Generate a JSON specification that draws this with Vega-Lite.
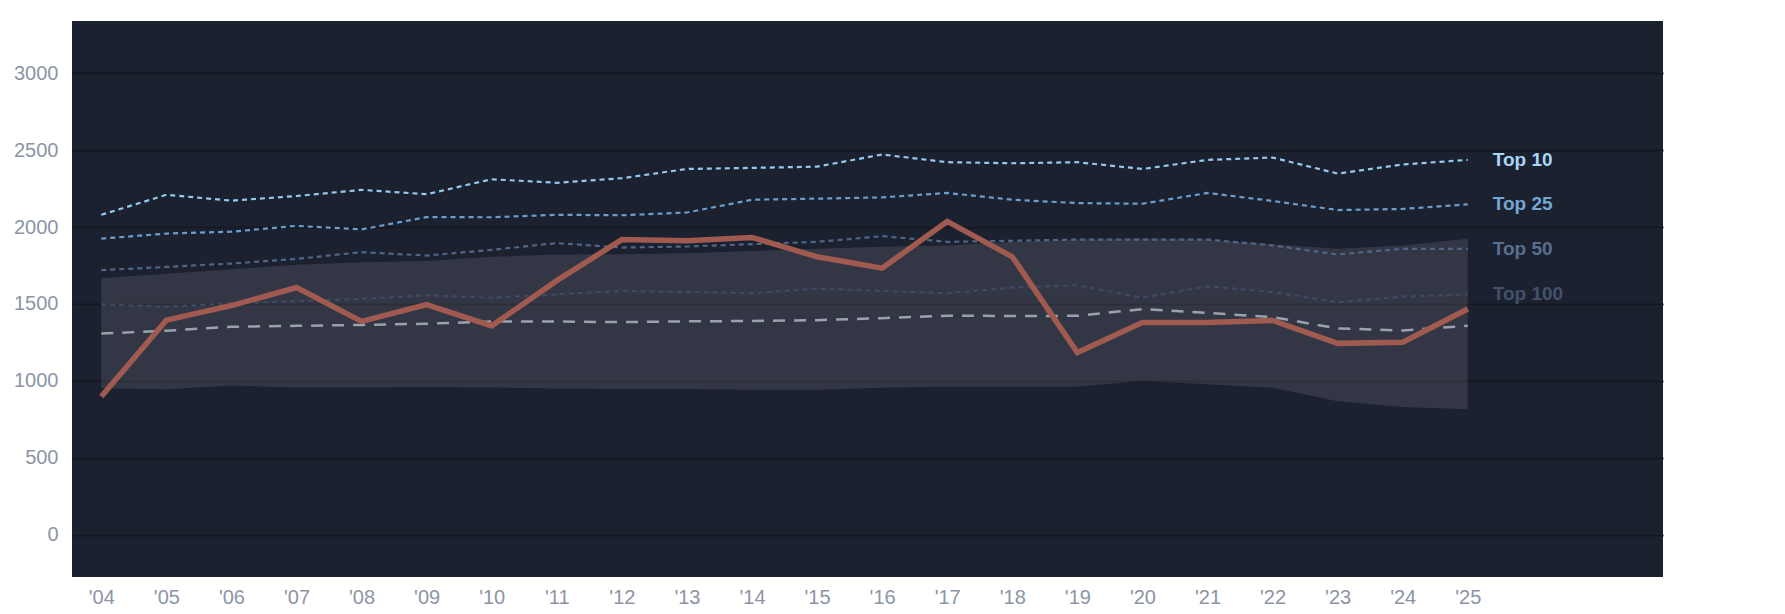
{
  "$schema": "https://vega.github.io/schema/vega-lite/v6.json",
  "width": 1591,
  "height": 556,
  "autosize": {"type": "none"},
  "padding": {"left": 72, "top": 21, "right": 122, "bottom": 37},
  "background": "#ffffff",
  "config": {
    "view": {"fill": "#1c2130", "stroke": null},
    "font": "Liberation Sans",
    "axis": {
      "domain": false,
      "ticks": false,
      "labelColor": "#8c95a6",
      "labelFontSize": 20,
      "labelFont": "Liberation Sans"
    }
  },
  "data": {
    "values": [
      {"year": 2004, "Top 10": 2080, "Top 25": 1925, "Top 50": 1720, "Top 100": 1498, "median": 1308, "value": 898, "low": 952, "high": 1667},
      {"year": 2005, "Top 10": 2210, "Top 25": 1958, "Top 50": 1741, "Top 100": 1482, "median": 1326, "value": 1395, "low": 945, "high": 1696},
      {"year": 2006, "Top 10": 2172, "Top 25": 1970, "Top 50": 1763, "Top 100": 1504, "median": 1352, "value": 1490, "low": 970, "high": 1726},
      {"year": 2007, "Top 10": 2202, "Top 25": 2008, "Top 50": 1793, "Top 100": 1519, "median": 1358, "value": 1607, "low": 957, "high": 1756},
      {"year": 2008, "Top 10": 2242, "Top 25": 1985, "Top 50": 1837, "Top 100": 1533, "median": 1364, "value": 1387, "low": 957, "high": 1772},
      {"year": 2009, "Top 10": 2214, "Top 25": 2065, "Top 50": 1815, "Top 100": 1556, "median": 1372, "value": 1496, "low": 960, "high": 1780},
      {"year": 2010, "Top 10": 2311, "Top 25": 2064, "Top 50": 1852, "Top 100": 1541, "median": 1386, "value": 1358, "low": 957, "high": 1807},
      {"year": 2011, "Top 10": 2288, "Top 25": 2080, "Top 50": 1896, "Top 100": 1563, "median": 1386, "value": 1652, "low": 950, "high": 1822},
      {"year": 2012, "Top 10": 2318, "Top 25": 2077, "Top 50": 1867, "Top 100": 1585, "median": 1382, "value": 1919, "low": 948, "high": 1824},
      {"year": 2013, "Top 10": 2378, "Top 25": 2095, "Top 50": 1874, "Top 100": 1578, "median": 1387, "value": 1911, "low": 948, "high": 1830},
      {"year": 2014, "Top 10": 2385, "Top 25": 2178, "Top 50": 1889, "Top 100": 1570, "median": 1390, "value": 1933, "low": 942, "high": 1844},
      {"year": 2015, "Top 10": 2393, "Top 25": 2185, "Top 50": 1904, "Top 100": 1600, "median": 1395, "value": 1807, "low": 942, "high": 1859},
      {"year": 2016, "Top 10": 2472, "Top 25": 2193, "Top 50": 1941, "Top 100": 1585, "median": 1408, "value": 1733, "low": 955, "high": 1872},
      {"year": 2017, "Top 10": 2422, "Top 25": 2222, "Top 50": 1904, "Top 100": 1570, "median": 1424, "value": 2037, "low": 963, "high": 1881},
      {"year": 2018, "Top 10": 2415, "Top 25": 2178, "Top 50": 1911, "Top 100": 1607, "median": 1422, "value": 1807, "low": 963, "high": 1904},
      {"year": 2019, "Top 10": 2422, "Top 25": 2156, "Top 50": 1919, "Top 100": 1622, "median": 1423, "value": 1185, "low": 963, "high": 1919},
      {"year": 2020, "Top 10": 2378, "Top 25": 2152, "Top 50": 1919, "Top 100": 1541, "median": 1467, "value": 1380, "low": 1000, "high": 1926},
      {"year": 2021, "Top 10": 2437, "Top 25": 2222, "Top 50": 1919, "Top 100": 1615, "median": 1442, "value": 1380, "low": 978, "high": 1919},
      {"year": 2022, "Top 10": 2452, "Top 25": 2170, "Top 50": 1881, "Top 100": 1578, "median": 1415, "value": 1393, "low": 955, "high": 1888},
      {"year": 2023, "Top 10": 2348, "Top 25": 2111, "Top 50": 1822, "Top 100": 1511, "median": 1341, "value": 1244, "low": 867, "high": 1860},
      {"year": 2024, "Top 10": 2407, "Top 25": 2118, "Top 50": 1859, "Top 100": 1548, "median": 1328, "value": 1252, "low": 830, "high": 1880},
      {"year": 2025, "Top 10": 2437, "Top 25": 2148, "Top 50": 1859, "Top 100": 1563, "median": 1358, "value": 1467, "low": 815, "high": 1925}
    ]
  },
  "encoding": {
    "x": {
      "field": "year",
      "type": "quantitative",
      "scale": {"domain": [2003.55, 2028], "nice": false, "zero": false},
      "axis": {
        "title": null,
        "grid": false,
        "values": [2004, 2005, 2006, 2007, 2008, 2009, 2010, 2011, 2012, 2013, 2014, 2015, 2016, 2017, 2018, 2019, 2020, 2021, 2022, 2023, 2024, 2025],
        "labelExpr": "\"'\" + substring(toString(datum.value), 2)",
        "labelPadding": 10
      }
    }
  },
  "resolve": {"scale": {"color": "independent"}},
  "layer": [
    {
      "mark": {"type": "area", "color": "#ffffff", "opacity": 0.1},
      "encoding": {
        "y": {
          "field": "low",
          "type": "quantitative",
          "scale": {"domain": [-275, 3340], "nice": false, "zero": false},
          "axis": {
            "title": null,
            "format": "d",
            "values": [0, 500, 1000, 1500, 2000, 2500, 3000],
            "gridColor": "#141820",
            "gridWidth": 2,
            "labelPadding": 14
          }
        },
        "y2": {"field": "high"}
      }
    },
    {
      "transform": [{"fold": ["Top 10", "Top 25", "Top 50", "Top 100"], "as": ["tier", "amount"]}],
      "mark": {"type": "line", "strokeWidth": 2.2},
      "encoding": {
        "y": {"field": "amount", "type": "quantitative"},
        "color": {
          "field": "tier",
          "type": "nominal",
          "scale": {"domain": ["Top 10", "Top 25", "Top 50", "Top 100"], "range": ["#94c9f0", "#6a9ecf", "#4f6587", "#3d4a63"]},
          "legend": null
        },
        "strokeDash": {
          "field": "tier",
          "type": "nominal",
          "scale": {"domain": ["Top 10", "Top 25", "Top 50", "Top 100"], "range": [[5, 4], [5, 4], [5, 4], [5, 4]]},
          "legend": null
        }
      }
    },
    {
      "mark": {"type": "line", "color": "#9aa2ae", "strokeWidth": 2.5, "strokeDash": [12, 9]},
      "encoding": {"y": {"field": "median", "type": "quantitative"}}
    },
    {
      "mark": {"type": "line", "color": "#a15a50", "strokeWidth": 5.5},
      "encoding": {"y": {"field": "value", "type": "quantitative"}}
    },
    {
      "transform": [
        {"filter": "datum.year == 2025"},
        {"fold": ["Top 10", "Top 25", "Top 50", "Top 100"], "as": ["tier", "amount"]}
      ],
      "mark": {"type": "text", "align": "left", "baseline": "middle", "dx": 25, "fontSize": 19, "fontWeight": "bold"},
      "encoding": {
        "y": {"field": "amount", "type": "quantitative"},
        "text": {"field": "tier"},
        "color": {
          "field": "tier",
          "type": "nominal",
          "scale": {"domain": ["Top 10", "Top 25", "Top 50", "Top 100"], "range": ["#a9d5f6", "#74a7d6", "#5a6e8e", "#44516b"]},
          "legend": null
        }
      }
    }
  ]
}
